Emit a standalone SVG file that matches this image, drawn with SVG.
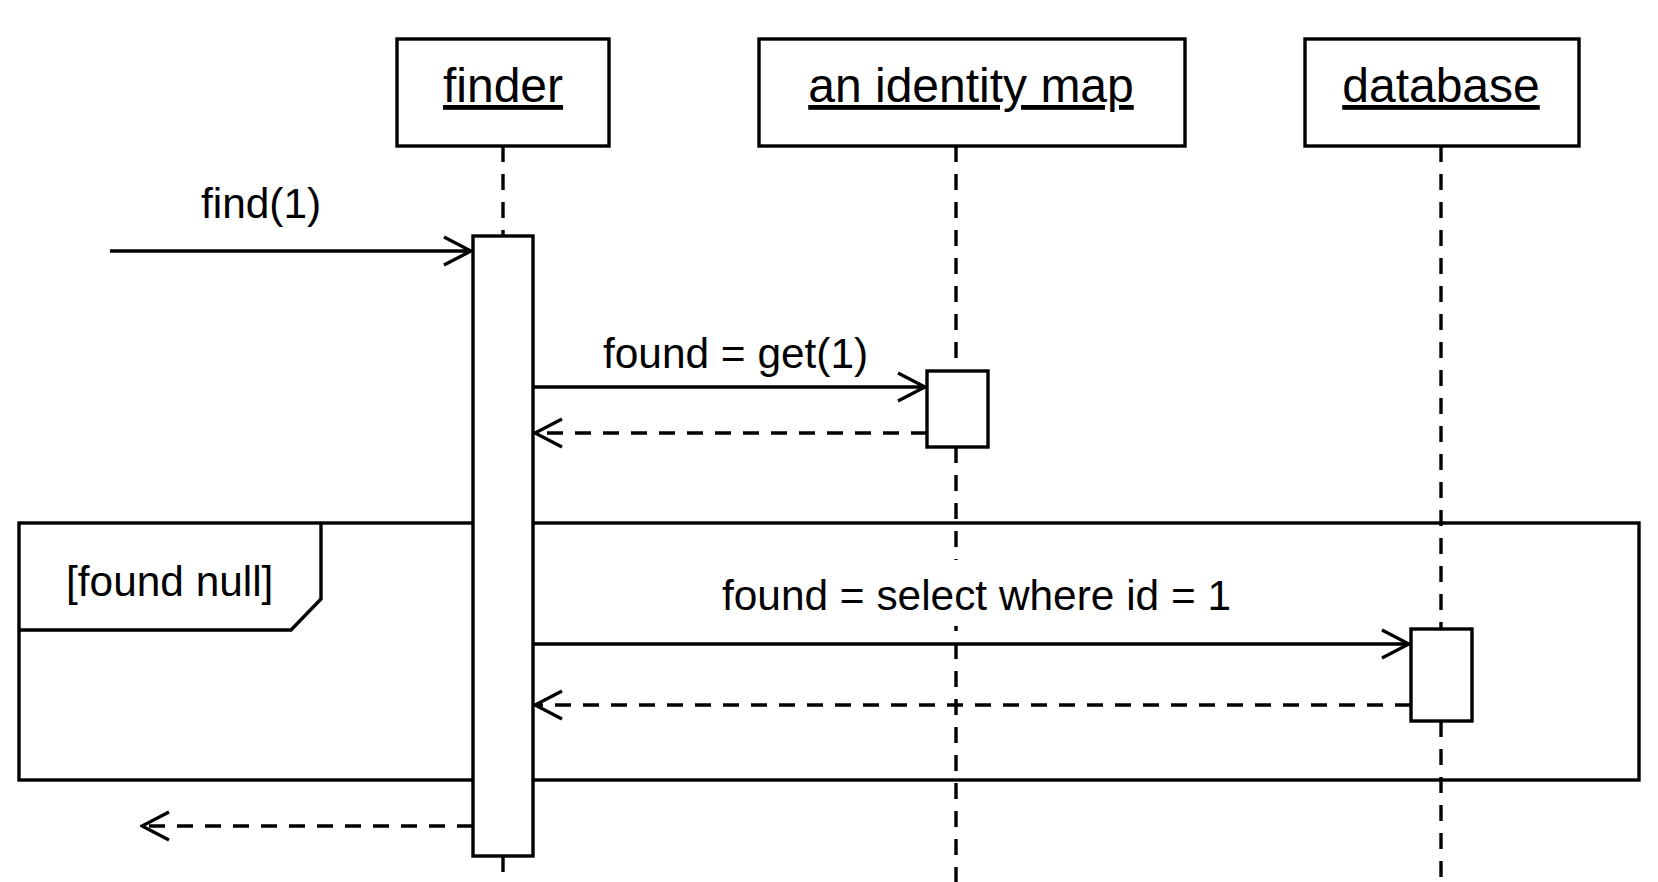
<svg xmlns="http://www.w3.org/2000/svg" width="1658" height="882" viewBox="0 0 1658 882">
<style>
.box{fill:#fff;stroke:#000;stroke-width:3.4}
.hdr{font-family:"Liberation Sans",Arial,sans-serif;font-size:48px;text-anchor:middle;text-decoration:underline;fill:#000}
.lbl{font-family:"Liberation Sans",Arial,sans-serif;font-size:42.4px;fill:#000}
.life{stroke:#000;stroke-width:3.4;stroke-dasharray:16 12;fill:none}
.msg{stroke:#000;stroke-width:3.3;fill:none;marker-end:url(#open)}
.ret{stroke:#000;stroke-width:3.3;fill:none;stroke-dasharray:16 12;marker-end:url(#open)}
.frame{fill:none;stroke:#000;stroke-width:3.4}
.bg{fill:#fff;stroke:none}
</style>
<defs>
<marker id="open" viewBox="-30 -16 32 32" refX="0" refY="0" markerWidth="32" markerHeight="32" markerUnits="userSpaceOnUse" orient="auto">
<path d="M-27,-14 L0,0 L-27,14" fill="none" stroke="#000" stroke-width="3.3"/>
</marker>
</defs>
<rect width="1658" height="882" fill="#fff"/>
<g id="lifelines">
<line class="life" x1="503" y1="146" x2="503" y2="236"/>
<line class="life" x1="503" y1="856" x2="503" y2="882"/>
<line class="life" x1="956" y1="146" x2="956" y2="371"/>
<line class="life" x1="956" y1="447" x2="956" y2="882"/>
<line class="life" x1="1441" y1="146" x2="1441" y2="629"/>
<line class="life" x1="1441" y1="721" x2="1441" y2="882"/>
</g>
<g id="frame-alt">
<rect class="frame" x="19" y="523" width="1620" height="257"/>
<path class="frame" d="M19,630 L291,630 L321,599 L321,523"/>
<text class="lbl" x="66" y="596">[found null]</text>
</g>
<g id="finder">
<rect class="box" x="397" y="39" width="212" height="107"/>
<text class="hdr" x="503" y="102">finder</text>
</g>
<g id="identity-map">
<rect class="box" x="759" y="39" width="426" height="107"/>
<text class="hdr" x="971" y="102">an identity map</text>
</g>
<g id="database">
<rect class="box" x="1305" y="39" width="274" height="107"/>
<text class="hdr" x="1441" y="102">database</text>
</g>
<g id="finder-activation">
<rect class="box" x="473" y="236" width="60" height="620"/>
</g>
<g id="identity-activation">
<rect class="box" x="927" y="371" width="61" height="76"/>
</g>
<g id="database-activation">
<rect class="box" x="1411" y="629" width="61" height="92"/>
</g>
<g id="connectors">
<path class="msg" d="M110,251 H471"/>
<text class="lbl" x="201" y="218">find(1)</text>
<path class="msg" d="M533,387 H925"/>
<text class="lbl" x="603" y="368">found = get(1)</text>
<path class="ret" d="M927,433 H535"/>
<path class="msg" d="M533,644 H1409"/>
<rect class="bg" x="716" y="560" width="520" height="66"/>
<text class="lbl" x="722" y="610">found = select where id = 1</text>
<path class="ret" d="M1411,705 H535"/>
<path class="ret" d="M473,826 H142"/>
</g>
</svg>
